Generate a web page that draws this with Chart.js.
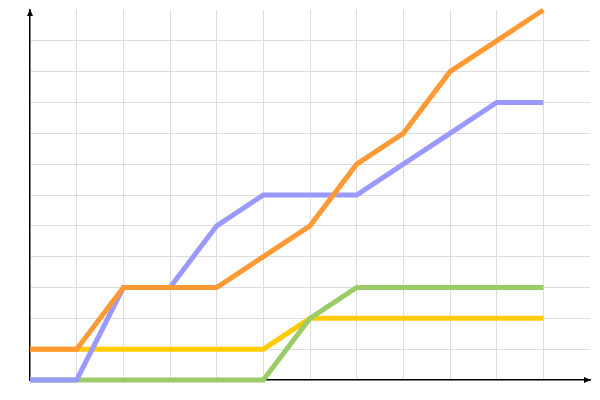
<!DOCTYPE html>
<html>
<head>
<meta charset="utf-8">
<script src="https://cdn.jsdelivr.net/npm/chart.js@4/dist/chart.umd.min.js"></script>
<style>
  html, body { margin: 0; padding: 0; background: #fff; }
  canvas { display: block; }
</style>
</head>
<body>
<canvas id="chart" width="600" height="400"></canvas>
<script>
// steps along the x axis (12 points)
const steps = [0, 1, 2, 3, 4, 5, 6, 7, 8, 9, 10, 11];

// values (one grid unit = one step)
const orangeValues = [1, 1, 3, 3, 3, 4, 5, 7, 8, 10, 11, 12];
const blueValues   = [0, 0, 3, 3, 5, 6, 6, 6, 7, 8, 9, 9];
const greenValues  = [0, 0, 0, 0, 0, 0, 2, 3, 3, 3, 3, 3];
const yellowValues = [1, 1, 1, 1, 1, 1, 2, 2, 2, 2, 2, 2];

const toPoints = vals => vals.map((v, i) => ({ x: steps[i], y: v }));

const lineStyle = color => ({
    borderColor: color,
    backgroundColor: color,
    borderWidth: 5,
    pointRadius: 0,
    tension: 0,
    fill: false,
    clip: false,
    borderJoinStyle: "miter"
});

// small arrow heads at the ends of both axes
const arrows = {
    id: "arrows",
    afterDatasetsDraw(chart) {
        const { ctx, chartArea } = chart;
        const x0 = chartArea.left, y0 = chartArea.bottom;
        ctx.save();
        ctx.fillStyle = "#000";
        ctx.beginPath();
        ctx.moveTo(x0, chartArea.top - 1);
        ctx.lineTo(x0 - 3, chartArea.top + 6);
        ctx.lineTo(x0 + 3, chartArea.top + 6);
        ctx.closePath();
        ctx.fill();
        ctx.beginPath();
        ctx.moveTo(chartArea.right + 1, y0);
        ctx.lineTo(chartArea.right - 6, y0 - 3);
        ctx.lineTo(chartArea.right - 6, y0 + 3);
        ctx.closePath();
        ctx.fill();
        ctx.restore();
    }
};

new Chart(document.getElementById("chart"), {
    type: "line",
    data: {
        datasets: [
            { label: "orange", data: toPoints(orangeValues), ...lineStyle("#ff9933") },
            { label: "blue", data: toPoints(blueValues), ...lineStyle("#9999ff") },
            { label: "green", data: toPoints(greenValues), ...lineStyle("#99cc66") },
            { label: "yellow", data: toPoints(yellowValues), ...lineStyle("#ffcc00") }
        ]
    },
    options: {
        responsive: false,
        animation: false,
        layout: { padding: { left: 30, top: 10, right: 10, bottom: 20 } },
        plugins: {
            legend: { display: false },
            tooltip: { enabled: false }
        },
        scales: {
            x: {
                type: "linear",
                min: 0,
                max: 12,
                ticks: { display: false, stepSize: 1 },
                grid: {
                    drawTicks: false,
                    color: c => (c.tick.value === 0 || c.tick.value === 12) ? "rgba(0,0,0,0)" : "#dddddd"
                },
                border: { display: true, color: "#000", width: 1.5 }
            },
            y: {
                min: 0,
                max: 12,
                ticks: { display: false, stepSize: 1 },
                grid: {
                    drawTicks: false,
                    color: c => (c.tick.value === 0 || c.tick.value === 12) ? "rgba(0,0,0,0)" : "#dddddd"
                },
                border: { display: true, color: "#000", width: 1.5 }
            }
        }
    },
    plugins: [arrows]
});
</script>
</body>
</html>
